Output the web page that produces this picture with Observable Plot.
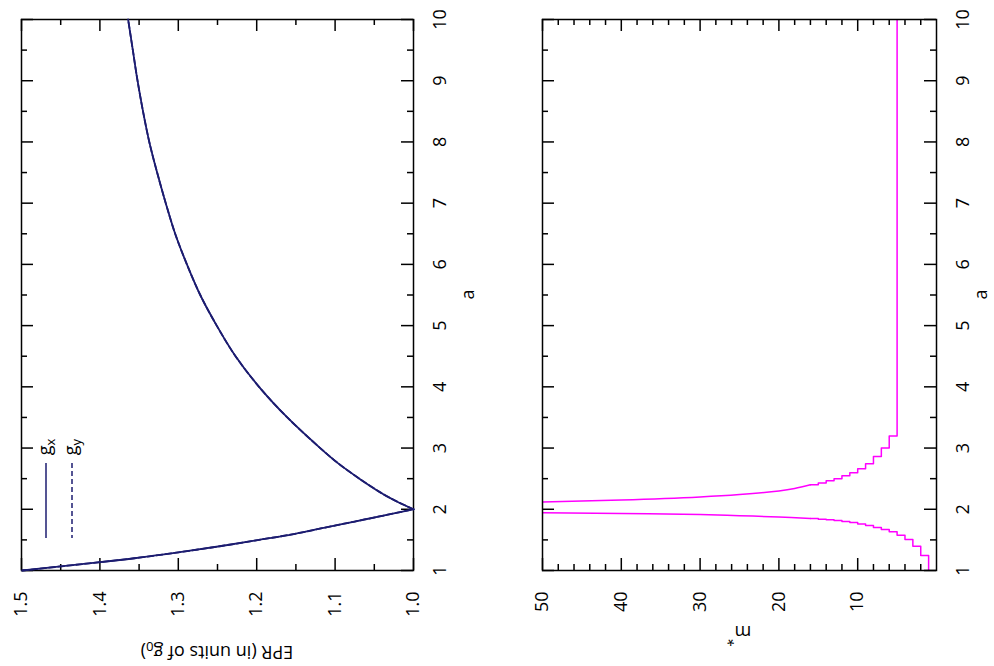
<!DOCTYPE html>
<html><head><meta charset="utf-8">
<script src="https://cdn.jsdelivr.net/npm/d3@7"></script>
<script src="https://cdn.jsdelivr.net/npm/@observablehq/plot@0.6"></script>
<style>
body{margin:0;background:#fff;}
#wrap{display:flex;width:994px;height:666px;overflow:hidden;}
svg{display:block;}
</style></head><body><div id="wrap"></div>
<script>
// ---- data ----
// EPR (g_x and g_y coincide) vs a
const aLeft   = [1.0, 1.1, 1.2, 1.3, 1.4, 1.5, 1.6, 1.7, 1.8, 1.9, 2.0];
const eprLeft = [1.499, 1.426, 1.356, 1.298, 1.245, 1.197, 1.151, 1.113, 1.075, 1.037, 1.0];
const aRight   = [2.0, 2.12, 2.25, 2.5, 2.75, 3.0, 3.5, 4.0, 4.5, 5.0, 5.5, 6.0, 6.5, 7.0, 7.5, 8.0, 8.5, 9.0, 9.5, 10.0];
const eprRight = [1.0, 1.020, 1.039, 1.069, 1.096, 1.119, 1.161, 1.197, 1.227, 1.251, 1.272, 1.289, 1.304, 1.316, 1.327, 1.337, 1.345, 1.352, 1.358, 1.364];

// m* staircase, branch below a = 2 (value m starts at a)
const lowStepM = [1, 2, 3, 4, 5, 6, 7, 8, 9, 10, 11, 12, 13, 14, 15, 16];
const lowStepA = [1.0, 1.245, 1.396, 1.505, 1.577, 1.632, 1.670, 1.703, 1.736, 1.758, 1.786, 1.800, 1.815, 1.828, 1.838, 1.848];
const lowTailM = [16, 20, 25, 30, 40, 50, 60];
const lowTailA = [1.848, 1.874, 1.896, 1.914, 1.933, 1.945, 1.953];
// branch above a = 2 (value m holds down to a)
const highStepM = [5, 6, 7, 8, 9, 10, 11, 12, 13, 14, 15, 16];
const highStepA = [10.0, 3.197, 3.0, 2.863, 2.743, 2.661, 2.597, 2.549, 2.50, 2.464, 2.43, 2.40];
const highTailM = [16, 18, 20, 25, 30, 40, 50, 60];
const highTailA = [2.40, 2.34, 2.30, 2.24, 2.20, 2.15, 2.12, 2.10];

// ticks
const aTicks = [1, 2, 3, 4, 5, 6, 7, 8, 9, 10];
const aMinor = [1.5, 2.5, 3.5, 4.5, 5.5, 6.5, 7.5, 8.5, 9.5];
const eprTicks = [1.5, 1.4, 1.3, 1.2, 1.1, 1.0];
const eprTickLabels = ["1.5", "1.4", "1.3", "1.2", "1.1", "1.0"];
const eprMinor = [1.45, 1.35, 1.25, 1.15, 1.05];
const mTicks = [50, 40, 30, 20, 10];
const mTickLabels = ["50", "40", "30", "20", "10"];
const mMinor = [48, 46, 44, 42, 38, 36, 34, 32, 28, 26, 24, 22, 18, 16, 14, 12, 8, 6, 4, 2];

// ---- styling ----
const NAVY = "#1c1c70", MAG = "#ff00ff";
const FONT = "'Open Sans', sans-serif";
const H = 666, MT = 19, MB = 96, FH = H - MT - MB;
const MAJ = 12, MIN = 6;

function frameTicks(xMaj, xMin, FW) {
  const s = {stroke: "#000", strokeWidth: 1.5};
  return [
    Plot.tickX(xMaj, {x: d => d, insetTop: FH - MAJ, ...s}),
    Plot.tickX(xMaj, {x: d => d, insetBottom: FH - MAJ, ...s}),
    Plot.tickX(xMin, {x: d => d, insetTop: FH - MIN, ...s}),
    Plot.tickX(xMin, {x: d => d, insetBottom: FH - MIN, ...s}),
    Plot.tickY(aTicks, {y: d => d, insetRight: FW - MAJ, ...s}),
    Plot.tickY(aTicks, {y: d => d, insetLeft: FW - MAJ, ...s}),
    Plot.tickY(aMinor, {y: d => d, insetRight: FW - MIN, ...s}),
    Plot.tickY(aMinor, {y: d => d, insetLeft: FW - MIN, ...s}),
    Plot.frame({stroke: "#000", strokeWidth: 1.5})
  ];
}
function tickLabels(xT, xL) {
  return [
    Plot.text(xT, {x: d => d, text: (d, i) => xL[i], frameAnchor: "bottom", dy: 21, rotate: -90, textAnchor: "end", lineAnchor: "middle", fill: "#000"}),
    Plot.text(aTicks, {y: d => d, text: d => String(d), frameAnchor: "right", dx: 27, rotate: -90, textAnchor: "middle", lineAnchor: "middle", fill: "#000"})
  ];
}

// ---- panel 1: EPR ----
const eprData = [
  ...aLeft.map((a, i) => ({a, epr: eprLeft[i], branch: "L"})),
  ...aRight.map((a, i) => ({a, epr: eprRight[i], branch: "R"}))
];
const W = 497;
const ML1 = 21, MR1 = 84, FW1 = W - ML1 - MR1;
const p1 = Plot.plot({
  width: W, height: H, marginLeft: ML1, marginRight: MR1, marginTop: MT, marginBottom: MB,
  style: {fontFamily: FONT, fontSize: "18px", background: "white", overflow: "visible"},
  x: {domain: [1.5, 1.0], axis: null},
  y: {domain: [1, 10], axis: null},
  marks: [
    ...frameTicks(eprTicks, eprMinor, FW1),
    Plot.line(eprData, {x: "epr", y: "a", z: "branch", stroke: NAVY, strokeWidth: 1.8, curve: "catmull-rom"}),
    Plot.line(eprData, {x: "epr", y: "a", z: "branch", stroke: NAVY, strokeWidth: 1.8, strokeDasharray: "6,3", curve: "catmull-rom"}),
    ...tickLabels(eprTicks, eprTickLabels)
  ]
});

// ---- panel 2: m* ----
const ML2 = 45, MR2 = 58, FW2 = W - ML2 - MR2;
const toPts = (ms, as) => ms.map((m, i) => ({m, a: as[i]}));
const p2 = Plot.plot({
  width: W, height: H, marginLeft: ML2, marginRight: MR2, marginTop: MT, marginBottom: MB,
  style: {fontFamily: FONT, fontSize: "18px", background: "white", overflow: "visible"},
  x: {domain: [50, 0], axis: null},
  y: {domain: [1, 10], axis: null},
  marks: [
    Plot.line(toPts(lowStepM, lowStepA), {x: "m", y: "a", stroke: MAG, strokeWidth: 1.5, curve: "step-before", clip: true}),
    Plot.line(toPts(lowTailM, lowTailA), {x: "m", y: "a", stroke: MAG, strokeWidth: 1.5, curve: "catmull-rom", clip: true}),
    Plot.line(toPts(highStepM, highStepA), {x: "m", y: "a", stroke: MAG, strokeWidth: 1.5, curve: "step-before", clip: true}),
    Plot.line(toPts(highTailM, highTailA), {x: "m", y: "a", stroke: MAG, strokeWidth: 1.5, curve: "catmull-rom", clip: true}),
    ...frameTicks(mTicks, mMinor, FW2),
    ...tickLabels(mTicks, mTickLabels)
  ]
});

// ---- titles and legend (rotated text with sub/superscripts) ----
const s1 = d3.select(p1), s2 = d3.select(p2);
function title(svg, x, y, rot, parts) {
  const t = svg.append("text")
    .attr("transform", `translate(${x},${y}) rotate(${rot})`)
    .attr("text-anchor", "middle").attr("font-family", FONT).attr("font-size", 18).attr("fill", "#000");
  parts.forEach(p => {
    const ts = t.append("tspan").text(p.t);
    if (p.shift) ts.attr("baseline-shift", p.shift).attr("font-size", p.size || 13);
  });
  return t;
}
// axis "a"
title(s1, ML1 + FW1 + 55, MT + FH / 2, -90, [{t: "a"}]).attr("dy", "0.35em");
title(s2, ML2 + FW2 + 45, MT + FH / 2, -90, [{t: "a"}]).attr("dy", "0.35em");
// EPR title (upside down)
title(s1, ML1 + FW1 / 2, 652, 180, [{t: "EPR (in units of g"}, {t: "0", shift: -4}, {t: ")"}]).attr("dy", "0.35em");
// m* title (upside down)
title(s2, ML2 + FW2 / 2, 631, 180, [{t: "m"}, {t: "*", shift: 9, size: 14}]).attr("dy", "0.27em");

// legend inside panel 1
const legend = [
  {label: "x", dash: null, x: ML1 + 25},
  {label: "y", dash: "5,3", x: ML1 + 51}
];
legend.forEach(l => {
  s1.append("line").attr("x1", l.x).attr("x2", l.x).attr("y1", 463).attr("y2", 538)
    .attr("stroke", NAVY).attr("stroke-width", 1.5).attr("stroke-dasharray", l.dash);
  const t = s1.append("text").attr("transform", `translate(${l.x + 5},447) rotate(-90)`)
    .attr("font-family", FONT).attr("font-size", 18).attr("fill", "#000");
  t.append("tspan").text("g");
  t.append("tspan").text(l.label).attr("baseline-shift", -4).attr("font-size", 13);
});

document.getElementById("wrap").append(p1, p2);
</script>
</body></html>
